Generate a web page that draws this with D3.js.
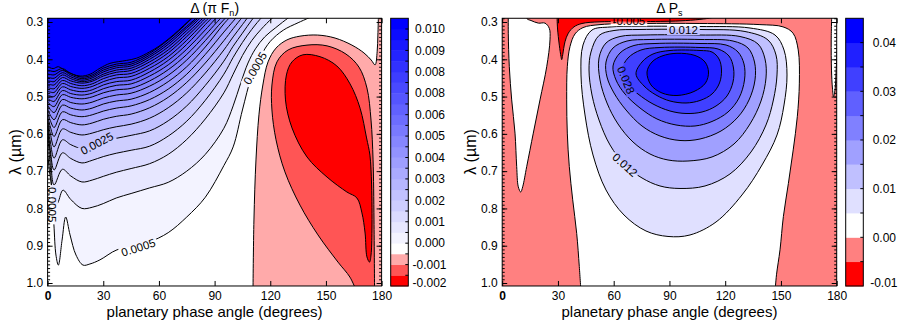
<!DOCTYPE html>
<html>
<head>
<meta charset="utf-8">
<script src="https://cdn.jsdelivr.net/npm/d3@7/dist/d3.min.js"></script>
<style>
html,body{margin:0;padding:0;background:#fff;}
svg{display:block;}
</style>
</head>
<body>
<svg id="chart" width="898" height="322"></svg>
<script>
// ================= DATA =================
// axis ticks
const PHASE_TICKS = [0, 30, 60, 90, 120, 150, 180];
const LAMBDA_TICKS = [0.3, 0.4, 0.5, 0.6, 0.7, 0.8, 0.9, 1.0];
const LAMBDA_MINOR = d3.range(29, 101).map(i => i / 100);

// ---- left panel : Delta(pi F_n) ----
const cbarEdgesL = [-0.0015, -0.001, -0.0005, 0, 0.0005, 0.001, 0.0015, 0.002, 0.0025, 0.003, 0.0035, 0.004, 0.0045,
  0.005, 0.0055, 0.006, 0.0065, 0.007, 0.0075, 0.008, 0.0085, 0.009, 0.0095, 0.01, 0.0105, 0.011];
const cbarTickValsL = [0.0105, 0.0095, 0.0085, 0.0075, 0.0065, 0.0055, 0.0045, 0.0035, 0.0025, 0.0015, 0.0005, -0.0005, -0.0015];
const cbarTickTextL = ["0.010", "0.009", "0.008", "0.008", "0.006", "0.005", "0.004", "0.003", "0.002", "0.001", "0.000", "-0.001", "-0.002"];

// blue iso-lines: [phase angle (deg), wavelength (um)] for levels 0.0005 ... 0.0105
const blueLevelsL = [0.0005, 0.001, 0.0015, 0.002, 0.0025, 0.003, 0.0035, 0.004, 0.0045, 0.005, 0.0055, 0.006, 0.0065,
  0.007, 0.0075, 0.008, 0.0085, 0.009, 0.0095, 0.01, 0.0105];
const blueIsoL = [
  [[0,0.643],[0.9,0.697],[2.2,0.742],[3.4,0.844],[4.5,0.925],[5.8,0.952],[7.8,0.885],[9.75,0.823],[12.1,0.871],[15.3,0.925],[19.1,0.952],[22.8,0.949],[28.2,0.938],[37.4,0.911],[48.7,0.9],[55,0.89],[65,0.865],[75,0.823],[85,0.77],[95,0.685],[100,0.635],[105,0.536],[110,0.445],[115,0.39],[120,0.352],[127,0.322],[135,0.302],[145,0.28]],
  [[0,0.599],[1.5,0.69],[3.5,0.795],[5.5,0.785],[8.3,0.751],[12.5,0.776],[18.5,0.8],[24,0.797],[30,0.787],[37,0.772],[45,0.76],[55,0.745],[65,0.73],[75,0.70],[85,0.655],[95,0.585],[100,0.525],[104,0.465],[108,0.41],[112,0.372],[117,0.34],[123,0.315],[130,0.288],[134,0.275]],
  [[0,0.589],[1.5,0.655],[3.5,0.737],[8,0.695],[12.5,0.713],[18.5,0.729],[24,0.724],[30,0.714],[37,0.703],[45,0.693],[55,0.68],[65,0.655],[75,0.615],[85,0.56],[95,0.49],[100,0.44],[105,0.39],[110,0.35],[115,0.32],[121,0.29],[125,0.275]],
  [[0,0.58],[1.5,0.645],[3.5,0.697],[8,0.651],[12.5,0.666],[18.5,0.678],[24,0.671],[30,0.661],[37,0.652],[45,0.644],[55,0.633],[65,0.606],[75,0.566],[85,0.51],[95,0.44],[100,0.395],[105,0.355],[110,0.32],[116,0.285],[120,0.27]],
  [[0,0.57],[1.5,0.622],[3.5,0.665],[8,0.616],[12.5,0.629],[18.5,0.639],[24,0.631],[30,0.62],[37,0.612],[45,0.604],[55,0.592],[65,0.565],[75,0.525],[85,0.47],[95,0.405],[100,0.365],[105,0.33],[110,0.295],[114,0.27]],
  [[0,0.561],[1.5,0.6],[3.5,0.635],[8,0.587],[12.5,0.596],[18.5,0.603],[24,0.598],[30,0.589],[37,0.581],[45,0.574],[55,0.558],[65,0.53],[75,0.49],[85,0.437],[95,0.375],[100,0.34],[105,0.307],[109,0.28]],
  [[0,0.552],[1.5,0.582],[3.5,0.607],[8,0.562],[12.5,0.57],[18.5,0.576],[24,0.571],[30,0.561],[37,0.553],[45,0.547],[55,0.53],[65,0.502],[75,0.462],[85,0.41],[95,0.35],[100,0.318],[105,0.287],[108,0.27]],
  [[0,0.542],[1.5,0.565],[3.5,0.583],[8,0.541],[12.5,0.549],[18.5,0.554],[24,0.549],[30,0.539],[37,0.531],[45,0.525],[55,0.508],[65,0.48],[75,0.44],[85,0.387],[95,0.327],[100,0.298],[104,0.275]],
  [[0,0.533],[1.5,0.55],[3.5,0.562],[8,0.523],[12.5,0.531],[18.5,0.536],[24,0.531],[30,0.52],[37,0.512],[45,0.507],[55,0.489],[65,0.46],[75,0.42],[85,0.367],[95,0.305],[100,0.278]],
  [[0,0.523],[1.5,0.535],[3.5,0.543],[8,0.508],[12.5,0.516],[18.5,0.52],[24,0.515],[30,0.504],[37,0.496],[45,0.491],[55,0.472],[65,0.443],[75,0.402],[85,0.35],[92,0.31],[98,0.278]],
  [[0,0.514],[1.5,0.522],[3.5,0.527],[8,0.495],[12.5,0.502],[18.5,0.506],[24,0.501],[30,0.49],[37,0.482],[45,0.478],[55,0.458],[65,0.428],[75,0.387],[85,0.335],[91,0.302],[96,0.276]],
  [[0,0.505],[1.5,0.51],[3.5,0.513],[8,0.484],[12.5,0.492],[18.5,0.496],[24,0.491],[30,0.479],[37,0.47],[45,0.466],[55,0.445],[65,0.415],[75,0.373],[85,0.321],[93,0.277]],
  [[0,0.495],[1.5,0.499],[3.5,0.5],[8,0.474],[12.5,0.482],[18.5,0.487],[24,0.482],[30,0.469],[37,0.46],[45,0.456],[55,0.434],[65,0.403],[75,0.36],[85,0.307],[91,0.276]],
  [[0,0.486],[1.5,0.488],[3.5,0.489],[8,0.465],[12.5,0.473],[18.5,0.478],[24,0.473],[30,0.46],[37,0.45],[45,0.446],[55,0.424],[65,0.393],[75,0.349],[83,0.308],[89,0.278]],
  [[0,0.476],[1.5,0.478],[3.5,0.479],[8,0.457],[12.5,0.465],[18.5,0.471],[24,0.466],[30,0.452],[37,0.442],[45,0.438],[55,0.415],[65,0.383],[75,0.339],[82,0.305],[87,0.28]],
  [[0,0.467],[1.5,0.468],[3.5,0.469],[8,0.449],[12.5,0.458],[18.5,0.464],[24,0.459],[30,0.445],[37,0.435],[45,0.43],[55,0.407],[65,0.375],[75,0.331],[81,0.303],[86,0.278]],
  [[0,0.458],[1.5,0.459],[3.5,0.46],[8,0.442],[12.5,0.452],[18.5,0.46],[24,0.455],[30,0.44],[37,0.429],[45,0.424],[55,0.4],[65,0.367],[75,0.323],[80,0.3],[85,0.275]],
  [[0,0.448],[1.5,0.45],[3.5,0.451],[8,0.436],[12.5,0.447],[18.5,0.456],[24,0.45],[30,0.434],[37,0.423],[45,0.418],[55,0.394],[65,0.36],[75,0.316],[81,0.29],[84,0.275]],
  [[0,0.439],[1.5,0.441],[3.5,0.442],[8,0.43],[12.5,0.442],[18.5,0.452],[24,0.446],[30,0.429],[37,0.418],[45,0.413],[55,0.389],[65,0.354],[73,0.32],[80,0.29],[83,0.275]],
  [[0,0.429],[1.5,0.431],[3.5,0.433],[8,0.425],[12.5,0.438],[18.5,0.448],[24,0.442],[30,0.424],[37,0.413],[45,0.408],[55,0.384],[65,0.348],[72,0.318],[79,0.285],[82,0.275]],
  [[0,0.42],[3,0.425],[5.8,0.42],[10.3,0.433],[17.5,0.445],[22.9,0.44],[28.2,0.424],[33.6,0.411],[42.6,0.403],[48,0.397],[55,0.38],[60,0.365],[67.7,0.335],[73,0.311],[78,0.288],[81,0.275]]
];
// negative iso-lines
const zeroIsoL = [[110.7,1.019],[111.2,0.831],[112.3,0.67],[113.9,0.549],[116,0.469],[118.8,0.407],[123.1,0.37],[129,0.348],[136,0.338],[145.5,0.335],[154.9,0.343],[164,0.362],[170.5,0.383],[174.4,0.402],[176.5,0.415],[177.6,0.38],[178,0.335],[178.3,0.281]];
const negHalfIsoL = [[166.2,1.019],[162.9,0.984],[156.5,0.944],[145.7,0.871],[136,0.791],[127.9,0.702],[123.1,0.616],[120.9,0.536],[120.9,0.469],[123.6,0.407],[129.6,0.375],[139.8,0.362],[150.6,0.364],[160.8,0.386],[167.8,0.421],[172.1,0.477],[174.3,0.563],[175.4,0.67],[175.9,0.831],[176.2,1.019]];
const negOneIsoL = [[137.6,0.388],[146.8,0.393],[155.9,0.418],[163,0.466],[168.4,0.531],[171.9,0.611],[173.7,0.657],[174.6,0.737],[174.8,0.858],[174.3,0.925],[173.5,0.944],[172.1,0.93],[171.1,0.866],[169.4,0.812],[166.7,0.772],[161.3,0.756],[150.6,0.716],[139.8,0.662],[131.7,0.584],[128.2,0.509],[128.7,0.442],[131.7,0.407]];
// contour labels: [level, phase angle, wavelength, rotation]
const labelsL = [[0.0025, 26.6, 0.626, -28], [0.0005, 48.9, 0.905, -18], [0.0005, 111.8, 0.424, -60], [0.0005, 2.6, 0.79, 90]];

// ---- right panel : Delta P_s ----
const cbarEdgesR = [-0.0099, -0.005, 0.004, 0.008, 0.012, 0.016, 0.02, 0.024, 0.028, 0.032, 0.036, 0.04];
const cbarTickValsR = [0.036, 0.028, 0.02, 0.012, 0.004, -0.0099];
const cbarTickTextR = ["0.04", "0.03", "0.02", "0.01", "0.00", "-0.01"];
const redIsoR = [[29.49,0.281],[29.76,0.316],[30.73,0.362],[31.64,0.393],[32.02,0.401],[32.56,0.388],[33.79,0.353],[35.57,0.33],[38.64,0.313],[42.94,0.304],[52.63,0.2995],[74.15,0.299],[95.68,0.297],[106.4,0.293],[112.9,0.288],[116.2,0.281]];
const whiteLobeIsoR = [[3.28,0.27],[3.28,0.33],[3.82,0.42],[5.11,0.509],[6.89,0.598],[7.8,0.688],[8.66,0.742],[9.96,0.756],[11.03,0.742],[13.18,0.688],[16.74,0.598],[20.34,0.509],[23.95,0.42],[25.72,0.348],[25.35,0.317],[23.03,0.303],[19.43,0.303],[15.5,0.296],[13.35,0.291],[12.8,0.27]];
const whiteMainIsoR = [[42.4,1.024],[41.49,0.956],[40.09,0.867],[37.94,0.777],[36.11,0.688],[35.03,0.598],[34.71,0.509],[35.03,0.42],[36.48,0.366],[39.18,0.332],[43.48,0.315],[52.63,0.307],[75.77,0.304],[106.4,0.304],[138.7,0.307],[151.1,0.313],[156.5,0.33],[159.3,0.375],[159.9,0.464],[158.8,0.554],[156.6,0.643],[154.0,0.733],[151.3,0.822],[149.5,0.911],[147.6,0.978],[146.8,1.024]];
const whiteEdgeIsoR = [[177.4,0.27],[177.05,0.348],[177.2,0.429],[177.7,0.477],[178.3,0.5],[179.1,0.482],[179.7,0.43],[180.5,0.35],[181,0.27]];
const ringLevelsR = [0.008, 0.012, 0.016, 0.02, 0.024, 0.028, 0.032, 0.036];
const ringIsoR = [
  [[43.48,0.3617],[48.32,0.3215],[58.01,0.3134],[74.15,0.3115],[106.44,0.3121],[133.35,0.3161],[146.8,0.3349],[151.65,0.3751],[153.26,0.4421],[151.65,0.5226],[147.88,0.603],[139.81,0.6835],[129.04,0.7639],[115.05,0.8364],[101.06,0.8712],[89.22,0.8752],[77.38,0.8605],[65.54,0.8176],[55.86,0.7505],[48.86,0.6567],[44.56,0.5494],[42.4,0.4421]],
  [[47.78,0.3805],[52.09,0.3362],[60.16,0.3228],[74.15,0.3201],[106.44,0.3201],[130.65,0.3255],[143.03,0.3483],[147.34,0.3885],[147.88,0.4421],[145.93,0.5092],[141.96,0.5762],[133.89,0.6486],[122.58,0.7076],[109.13,0.7398],[95.68,0.7465],[84.91,0.7398],[75.23,0.7183],[66.08,0.6835],[58.01,0.6298],[52.09,0.5628],[48.32,0.4958],[46.71,0.4287]],
  [[52.09,0.3965],[55.86,0.3563],[63.39,0.3389],[76.84,0.3349],[106.44,0.3349],[127.96,0.3389],[137.65,0.359],[141.42,0.3992],[141.96,0.4502],[139.27,0.5119],[133.35,0.5735],[124.74,0.6272],[112.9,0.662],[99.98,0.6728],[89.22,0.6701],[79.53,0.654],[70.38,0.6218],[62.31,0.5735],[56.39,0.5172],[52.63,0.4555]],
  [[55.86,0.4073],[59.63,0.3697],[67.16,0.351],[79.53,0.3469],[106.44,0.3469],[124.2,0.351],[132.27,0.3697],[135.77,0.4073],[136.04,0.4555],[132.81,0.5092],[126.89,0.5548],[117.74,0.5923],[106.44,0.6138],[95.68,0.6178],[84.91,0.6057],[75.23,0.5789],[66.62,0.536],[60.16,0.4904],[56.39,0.4475]],
  [[59.63,0.418],[63.39,0.3831],[70.92,0.363],[82.22,0.3577],[106.44,0.3577],[120.44,0.3617],[126.89,0.3805],[130.12,0.4126],[130.39,0.4555],[127.43,0.5038],[121.51,0.5414],[112.9,0.5668],[103.75,0.5789],[93.53,0.5762],[83.3,0.5601],[74.15,0.5306],[66.08,0.4931],[61.24,0.4555]],
  [[64.47,0.4287],[67.7,0.3965],[74.69,0.3751],[84.91,0.3684],[106.44,0.3684],[116.13,0.3724],[122.05,0.3912],[124.47,0.4234],[124.2,0.4609],[120.97,0.4984],[115.05,0.5253],[107.52,0.5414],[98.91,0.5454],[90.3,0.5387],[81.15,0.5199],[73.08,0.4931],[67.16,0.4663]],
  [[72.0,0.4394],[75.23,0.4073],[81.15,0.3858],[90.3,0.3764],[106.44,0.3764],[112.9,0.3805],[116.67,0.3992],[118.01,0.4287],[116.94,0.4636],[112.9,0.4931],[106.44,0.5105],[98.91,0.5172],[90.3,0.5119],[82.76,0.4958],[76.31,0.4716]],
  [[77.92,0.4341],[80.61,0.4073],[85.99,0.3912],[94.06,0.3839],[103.75,0.3898],[109.13,0.4073],[111.02,0.4341],[109.4,0.4636],[103.21,0.4864],[94.06,0.4971],[85.99,0.4904],[80.07,0.4689]]
];
const labelsR = [[-0.005, 68.2, 0.2965, 0], [0.012, 97.5, 0.3201, 0], [0.012, 66.08, 0.6835, 42], [0.028, 66.62, 0.4555, 68]];

// ================= DRAWING =================
const FONT = "'Liberation Sans', Arial, Helvetica, sans-serif";
const W = 898, H = 322;
const svg = d3.select("#chart");
const defs = svg.append("defs");
const yScale = d3.scaleLinear().domain([0.3, 1.0]).range([22, 283]);
const LAMBDA_EDGE = [0.29, 1.008];
const CB = {top: 18.3, bottom: 286, width: 17.6};

function bandColor(edges, colors, level, below) {
  const i = edges.indexOf(level);
  return colors[below ? i - 1 : i];
}

function setupPanel(id, xRange) {
  const x = d3.scaleLinear().domain([0, 180]).range(xRange);
  const y = yScale;
  const x0 = x(0), x1 = x(180), yT = y(LAMBDA_EDGE[0]), yB = y(LAMBDA_EDGE[1]);
  defs.append("clipPath").attr("id", id + "-clip").append("rect")
    .attr("x", x0).attr("y", yT).attr("width", x1 - x0).attr("height", yB - yT);
  const mask = defs.append("mask").attr("id", id + "-mask").attr("maskUnits", "userSpaceOnUse")
    .attr("x", 0).attr("y", 0).attr("width", W).attr("height", H);
  mask.append("rect").attr("width", W).attr("height", H).attr("fill", "#fff");
  const root = svg.append("g");
  const plot = root.append("g").attr("clip-path", `url(#${id}-clip)`);
  const fills = plot.append("g");
  const lines = plot.append("g").attr("fill", "none").attr("stroke", "#000").attr("stroke-width", 1)
    .attr("stroke-linejoin", "round").attr("mask", `url(#${id}-mask)`);
  const labels = plot.append("g").attr("font-family", FONT).attr("font-size", 11.5).attr("fill", "#000").attr("text-anchor", "middle");
  const open = d3.line().x(d => x(d[0])).y(d => y(d[1])).curve(d3.curveCatmullRom.alpha(0.5));
  const closed = d3.line().x(d => x(d[0])).y(d => y(d[1])).curve(d3.curveCatmullRomClosed.alpha(0.5));
  const P = {x, y, x0, x1, yT, yB, root, plot, fills, lines};
  P.bg = color => fills.append("rect").attr("x", x0 - 2).attr("y", yT - 2).attr("width", x1 - x0 + 4).attr("height", yB - yT + 4).attr("fill", color);
  P.fillOpen = (pts, closure, color) => fills.append("path")
    .attr("d", open(pts) + closure.map(p => `L${x(p[0])},${y(p[1])}`).join("") + "Z").attr("fill", color);
  P.fillClosed = (pts, color) => fills.append("path").attr("d", closed(pts)).attr("fill", color);
  P.strokeOpen = pts => lines.append("path").attr("d", open(pts));
  P.strokeClosed = pts => lines.append("path").attr("d", closed(pts));
  P.label = (text, a, l, rot) => {
    const tr = `translate(${x(a)},${y(l)}) rotate(${rot})`;
    const t = labels.append("text").attr("transform", tr).attr("dy", "0.35em").text(text);
    const w = t.node().getComputedTextLength();
    mask.append("rect").attr("transform", tr).attr("x", -w / 2 - 2).attr("y", -5.5)
      .attr("width", w + 4).attr("height", 11).attr("fill", "#000");
  };
  return P;
}

function drawAxes(P, titleMain, titleSub, titleEnd) {
  const ax = P.root.append("g");
  const style = g => {
    g.select(".domain").remove();
    g.selectAll("line").attr("stroke", "#000");
    g.selectAll("text").attr("fill", "#000");
    g.attr("font-family", FONT).attr("font-size", 12);
  };
  const bottom = ax.append("g").attr("transform", `translate(0,${P.yB})`)
    .call(d3.axisBottom(P.x).tickValues(PHASE_TICKS).tickSize(-5).tickPadding(6).tickFormat(d3.format("d"))).call(style);
  bottom.selectAll("text").filter(d => d === 0).attr("font-weight", "bold");
  ax.append("g").attr("transform", `translate(0,${P.yT})`)
    .call(d3.axisTop(P.x).tickValues(PHASE_TICKS).tickSize(-5).tickFormat(() => "")).call(style);
  ax.append("g").attr("transform", `translate(${P.x0},0)`)
    .call(d3.axisLeft(P.y).tickValues(LAMBDA_TICKS).tickSize(-5).tickPadding(4.5).tickFormat(d3.format(".1f"))).call(style);
  ax.append("g").attr("transform", `translate(${P.x0},0)`)
    .call(d3.axisLeft(P.y).tickValues(LAMBDA_MINOR).tickSize(-2.5).tickFormat(() => "")).call(style);
  ax.append("g").attr("transform", `translate(${P.x1},0)`)
    .call(d3.axisRight(P.y).tickValues(LAMBDA_TICKS).tickSize(-5).tickFormat(() => "")).call(style);
  ax.append("g").attr("transform", `translate(${P.x1},0)`)
    .call(d3.axisRight(P.y).tickValues(LAMBDA_MINOR).tickSize(-2.5).tickFormat(() => "")).call(style);
  ax.append("rect").attr("x", P.x0).attr("y", P.yT).attr("width", P.x1 - P.x0).attr("height", P.yB - P.yT)
    .attr("fill", "none").attr("stroke", "#000").attr("stroke-width", 1);
  const cx = (P.x0 + P.x1) / 2;
  ax.append("text").attr("x", cx).attr("y", 317).attr("text-anchor", "middle")
    .attr("font-family", FONT).attr("font-size", 15).text("planetary phase angle (degrees)");
  ax.append("text").attr("transform", `translate(${P.x0 - 32},152) rotate(-90)`).attr("text-anchor", "middle")
    .attr("dy", "0.35em").attr("font-family", FONT).attr("font-size", 16).text("λ (µm)");
  const t = ax.append("text").attr("x", cx).attr("y", 13).attr("text-anchor", "middle")
    .attr("font-family", FONT).attr("font-size", 14);
  t.append("tspan").text(titleMain);
  t.append("tspan").attr("font-size", 9).attr("dy", 3).text(titleSub);
  if (titleEnd) t.append("tspan").attr("dy", -3).text(titleEnd);
}

function drawColorbar(x, edges, colors, tickVals, tickText, labelX) {
  const g = svg.append("g");
  const n = colors.length, h = (CB.bottom - CB.top) / n;
  const pos = d3.scaleLinear().domain(edges).range(edges.map((_, i) => CB.bottom - i * h));
  colors.forEach((c, i) => g.append("rect").attr("x", x).attr("y", pos(edges[i + 1]))
    .attr("width", CB.width).attr("height", pos(edges[i]) - pos(edges[i + 1]) + 0.4).attr("fill", c));
  g.append("rect").attr("x", x).attr("y", CB.top).attr("width", CB.width).attr("height", CB.bottom - CB.top)
    .attr("fill", "none").attr("stroke", "#000").attr("stroke-width", 1);
  edges.slice(1, -1).forEach(v => g.append("line").attr("x1", x + CB.width).attr("x2", x + CB.width - 3)
    .attr("y1", pos(v)).attr("y2", pos(v)).attr("stroke", "#000"));
  tickVals.forEach((v, i) => g.append("text")
    .attr("x", tickText[i].startsWith("-") ? labelX - 2.5 : labelX)
    .attr("y", Math.min(pos(v), CB.bottom - 3)).attr("dy", "0.35em")
    .attr("font-family", FONT).attr("font-size", 12).text(tickText[i]));
}

// ---------- LEFT PANEL ----------
const blueRamp = d3.range(1, 22).map(k => { const v = Math.round(255 * (1 - k / 21)); return d3.rgb(v, v, 255).formatHex(); });
const bandColorsL = ["#ff0000", "#ff5555", "#ffaaaa", "#ffffff"].concat(blueRamp);
{
  const P = setupPanel("L", [47.6, 381.6]);
  P.bg("#ffffff");
  blueIsoL.forEach((pts, i) => {
    const first = pts[0], last = pts[pts.length - 1];
    P.fillOpen(pts, [[last[0], 0.25], [-5, 0.25], [-5, first[1]]], bandColor(cbarEdgesL, bandColorsL, blueLevelsL[i], false));
  });
  P.fillOpen(zeroIsoL, [[185, 0.25], [185, 1.05], [110.7, 1.05]], bandColor(cbarEdgesL, bandColorsL, 0, true));
  P.fillOpen(negHalfIsoL, [[176.2, 1.05], [166.2, 1.05]], bandColor(cbarEdgesL, bandColorsL, -0.0005, true));
  P.fillClosed(negOneIsoL, bandColor(cbarEdgesL, bandColorsL, -0.001, true));
  blueIsoL.forEach(pts => P.strokeOpen(pts));
  P.strokeOpen(zeroIsoL);
  P.strokeOpen(negHalfIsoL);
  P.strokeClosed(negOneIsoL);
  labelsL.forEach(([lev, a, l, r]) => P.label(lev.toFixed(4), a, l, r));
  drawAxes(P, "Δ (π F", "n", ")");
  drawColorbar(390.7, cbarEdgesL, bandColorsL, cbarTickValsL, cbarTickTextL, 415);
}

// ---------- RIGHT PANEL ----------
const bandColorsR = ["#ff0000", "#ff8080", "#ffffff", "#e0e0ff", "#c0c0ff", "#a0a0ff", "#8080ff", "#6060ff", "#4040ff", "#2020ff", "#0000ff"];
{
  const P = setupPanel("R", [502.2, 836.7]);
  P.bg(bandColor(cbarEdgesR, bandColorsR, -0.005, false));
  P.fillOpen(redIsoR, [[118, 0.26], [28, 0.26]], bandColor(cbarEdgesR, bandColorsR, -0.005, true));
  const white = bandColor(cbarEdgesR, bandColorsR, 0.004, false);
  P.fillOpen(whiteLobeIsoR, [], white);
  P.fillOpen(whiteMainIsoR, [[146.8, 1.05], [42.4, 1.05]], white);
  P.fillOpen(whiteEdgeIsoR, [], white);
  ringIsoR.forEach((pts, i) => P.fillClosed(pts, bandColor(cbarEdgesR, bandColorsR, ringLevelsR[i], false)));
  P.strokeOpen(redIsoR);
  P.strokeOpen(whiteLobeIsoR);
  P.strokeOpen(whiteMainIsoR);
  P.strokeOpen(whiteEdgeIsoR);
  ringIsoR.forEach(pts => P.strokeClosed(pts));
  labelsR.forEach(([lev, a, l, r]) => P.label(lev.toFixed(3), a, l, r));
  drawAxes(P, "Δ P", "s", "");
  drawColorbar(845.7, cbarEdgesR, bandColorsR, cbarTickValsR, cbarTickTextR, 872.7);
}
</script>
</body>
</html>
